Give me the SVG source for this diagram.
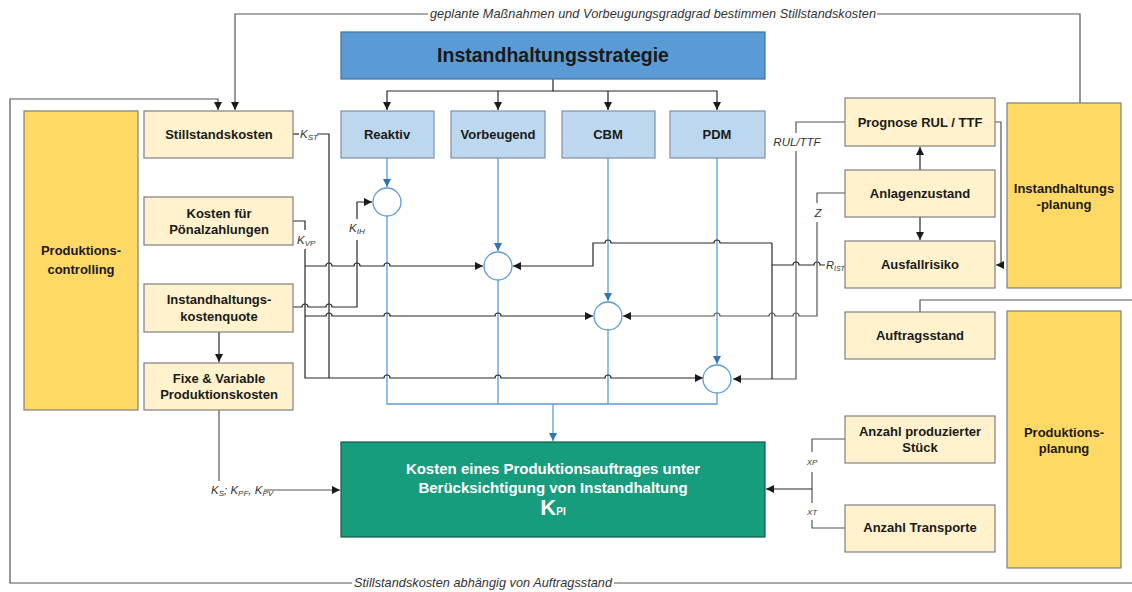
<svg xmlns="http://www.w3.org/2000/svg" width="1132" height="592" viewBox="0 0 1132 592">
<defs>
<marker id="ab" viewBox="0 0 10 10" refX="10" refY="5" markerWidth="8" markerHeight="8" markerUnits="userSpaceOnUse" orient="auto"><path d="M0,0 L10,5 L0,10 z" fill="#1a1a1a"/></marker>
<marker id="abl" viewBox="0 0 10 10" refX="10" refY="5" markerWidth="8" markerHeight="8" markerUnits="userSpaceOnUse" orient="auto"><path d="M0,0 L10,5 L0,10 z" fill="#2e75b6"/></marker>
<style>
.lt{fill:#fff2cc;stroke:#7f7f7f;stroke-width:1.2}
.yl{fill:#ffd966;stroke:#7f7f7f;stroke-width:1.2}
.sb{fill:#bdd7ee;stroke:#7f8fa6;stroke-width:1.2}
.t{font-family:"Liberation Sans",Arial,sans-serif;font-weight:bold;font-size:13px;fill:#1a1a1a;text-anchor:middle}
.tw{font-family:"Liberation Sans",Arial,sans-serif;font-weight:bold;font-size:15px;fill:#fff;text-anchor:middle}
.it{font-family:"Liberation Sans",Arial,sans-serif;font-style:italic;font-size:12.7px;fill:#333}
.k{font-family:"Liberation Sans",Arial,sans-serif;font-style:italic;font-size:11.5px;fill:#333}
.s{font-size:8px}
.w{fill:none;stroke:#262626;stroke-width:1.2}
.g{fill:none;stroke:#555;stroke-width:1.2}
.bl{fill:none;stroke:#5b9bd5;stroke-width:1.3}
.c{fill:#fff;stroke:#5b9bd5;stroke-width:1.3}
</style>
</defs>
<rect width="1132" height="592" fill="#fff"/>

<g id="connectors">
  <path class="g" d="M428,14 H235 V110" marker-end="url(#ab)"/>
  <path class="g" d="M1080,103 V14 H877"/>
  <text class="it" x="430" y="18" textLength="446" lengthAdjust="spacing">geplante Maßnahmen und Vorbeugungsgradgrad bestimmen Stillstandskosten</text>
  <path class="g" d="M352,583 H10 V99 H218 V110" marker-end="url(#ab)"/>
  <path class="g" d="M614,583 H1132"/>
  <path class="g" d="M920,312 V300 H1132"/>
  <text class="it" x="354" y="587" textLength="258" lengthAdjust="spacing">Stillstandskosten abhängig von Auftragsstand</text>

  <path class="w" d="M553,79 V91 H387 V110" marker-end="url(#ab)"/>
  <path class="w" d="M553,91 H717 V110" marker-end="url(#ab)"/>
  <path class="w" d="M498,91 V110" marker-end="url(#ab)"/>
  <path class="w" d="M608,91 V110" marker-end="url(#ab)"/>

  <path class="bl" d="M387,158 V187" marker-end="url(#abl)"/>
  <path class="bl" d="M498,158 V251" marker-end="url(#abl)"/>
  <path class="bl" d="M608,158 V301" marker-end="url(#abl)"/>
  <path class="bl" d="M717,158 V364" marker-end="url(#abl)"/>
  <path class="bl" d="M387,216 V404 H717 V393"/>
  <path class="bl" d="M498,280 V404"/>
  <path class="bl" d="M608,330 V404"/>
  <path class="bl" d="M553,404 V441" marker-end="url(#abl)"/>

  <path class="w" d="M293,134 H299"/>
  <text class="k" x="300" y="138">K<tspan class="s" dy="2">ST</tspan></text>
  <path class="w" d="M317,134 H329 V378"/>
  <path class="w" d="M293,221 H305 V230"/>
  <text class="k" x="297" y="244">K<tspan class="s" dy="2">VP</tspan></text>
  <path class="w" d="M305,249 V378 H384 a3,3 0 0 1 6,0 H495 a3,3 0 0 1 6,0 H605 a3,3 0 0 1 6,0 H703" marker-end="url(#ab)"/>
  <path class="w" d="M305,266 H326 a3,3 0 0 1 6,0 H354 a3,3 0 0 1 6,0 H384 a3,3 0 0 1 6,0 H483" marker-end="url(#ab)"/>
  <path class="w" d="M293,307 H302 a3,3 0 0 1 6,0 H326 a3,3 0 0 1 6,0 H357 V240"/>
  <text class="k" x="349" y="232">K<tspan class="s" dy="2">IH</tspan></text>
  <path class="w" d="M357,219 V202 H372" marker-end="url(#ab)"/>
  <path class="w" d="M305,316 H326 a3,3 0 0 1 6,0 H384 a3,3 0 0 1 6,0 H495 a3,3 0 0 1 6,0 H593" marker-end="url(#ab)"/>

  <path class="g" d="M845,122 H796 V133"/>
  <text class="k" x="797" y="146" text-anchor="middle">RUL/TTF</text>
  <path class="g" d="M796,151 V379 H733" marker-end="url(#ab)"/>
  <path class="w" d="M772,243 V379"/>
  <path class="w" d="M772,243 H720 a3,3 0 0 0 -6,0 H611 a3,3 0 0 0 -6,0 H593 V266 H513" marker-end="url(#ab)"/>
  <path class="w" d="M825,265 H820 a3,3 0 0 0 -6,0 H799 a3,3 0 0 0 -6,0 H772"/>
  <text class="k" x="826" y="269" style="font-size:11px">R<tspan style="font-size:7px" dy="2">IST</tspan></text>
  <path class="g" d="M845,193 H817 V203"/>
  <text class="k" x="818" y="217" text-anchor="middle">Z</text>
  <path class="g" d="M817,222 V316 H799 a3,3 0 0 0 -6,0 H775 a3,3 0 0 0 -6,0 H720 a3,3 0 0 0 -6,0 H623" marker-end="url(#ab)"/>

  <path class="w" d="M920,170 V147" marker-end="url(#ab)"/>
  <path class="w" d="M920,217 V240" marker-end="url(#ab)"/>
  <path class="g" d="M995,122 H1001 V265 H996" marker-end="url(#ab)"/>

  <path class="w" d="M219,332 V362" marker-end="url(#ab)"/>
  <path class="g" d="M219,410 V481"/>
  <text class="k" x="211" y="494">K<tspan class="s" dy="2">S</tspan><tspan dy="-2">; K</tspan><tspan class="s" dy="2">PF</tspan><tspan dy="-2">, K</tspan><tspan class="s" dy="2">PV</tspan></text>
  <path class="g" d="M264,490 H340" marker-end="url(#ab)"/>

  <path class="g" d="M845,439 H812 V452"/>
  <text class="k" x="812" y="465" text-anchor="middle" style="font-size:8px">XP</text>
  <path class="g" d="M812,472 V503"/>
  <text class="k" x="812" y="515" text-anchor="middle" style="font-size:8px">XT</text>
  <path class="g" d="M812,520 V528 H845"/>
  <path class="w" d="M812,489 H766" marker-end="url(#ab)"/>
</g>

<g id="circles">
  <circle class="c" cx="387" cy="202" r="14"/>
  <circle class="c" cx="498" cy="266" r="14"/>
  <circle class="c" cx="608" cy="316" r="14"/>
  <circle class="c" cx="717" cy="379" r="14"/>
</g>

<g id="n-strategie">
  <rect x="341" y="32" width="424" height="47" fill="#5b9bd5" stroke="#41719c" stroke-width="1.2"/>
  <text class="t" x="553" y="62" style="font-size:19.5px">Instandhaltungsstrategie</text>
</g>
<g id="n-reaktiv"><rect class="sb" x="341" y="111" width="93" height="47"/><text class="t" x="387" y="139">Reaktiv</text></g>
<g id="n-vorbeugend"><rect class="sb" x="451" y="111" width="94" height="47"/><text class="t" x="498" y="139">Vorbeugend</text></g>
<g id="n-cbm"><rect class="sb" x="562" y="111" width="93" height="47"/><text class="t" x="608" y="139">CBM</text></g>
<g id="n-pdm"><rect class="sb" x="670" y="111" width="95" height="47"/><text class="t" x="717" y="139">PDM</text></g>

<g id="n-controlling"><rect class="yl" x="24" y="111" width="114" height="299"/><text class="t" x="81" y="255">Produktions-</text><text class="t" x="81" y="274">controlling</text></g>
<g id="n-stillstand"><rect class="lt" x="144" y="111" width="149" height="47"/><text class="t" x="219" y="139">Stillstandskosten</text></g>
<g id="n-poenal"><rect class="lt" x="144" y="197" width="149" height="48"/><text class="t" x="219" y="218">Kosten für</text><text class="t" x="219" y="234">Pönalzahlungen</text></g>
<g id="n-ihquote"><rect class="lt" x="144" y="284" width="149" height="48"/><text class="t" x="219" y="304">Instandhaltungs-</text><text class="t" x="219" y="321">kostenquote</text></g>
<g id="n-fixe"><rect class="lt" x="144" y="363" width="149" height="47"/><text class="t" x="219" y="383">Fixe &amp; Variable</text><text class="t" x="219" y="399">Produktionskosten</text></g>

<g id="n-kosten">
  <rect x="341" y="442" width="424" height="95" fill="#179c7d" stroke="#0f5c49" stroke-width="1.2"/>
  <text class="tw" x="553" y="474">Kosten eines Produktionsauftrages unter</text>
  <text class="tw" x="553" y="493">Berücksichtigung von Instandhaltung</text>
  <text class="tw" x="553" y="515" style="font-size:22px">K<tspan style="font-size:10px">PI</tspan></text>
</g>

<g id="n-prognose"><rect class="lt" x="845" y="98" width="150" height="48"/><text class="t" x="920" y="127">Prognose RUL / TTF</text></g>
<g id="n-anlagen"><rect class="lt" x="845" y="170" width="150" height="47"/><text class="t" x="920" y="198">Anlagenzustand</text></g>
<g id="n-ausfall"><rect class="lt" x="845" y="241" width="150" height="47"/><text class="t" x="920" y="269">Ausfallrisiko</text></g>
<g id="n-auftrag"><rect class="lt" x="845" y="312" width="150" height="47"/><text class="t" x="920" y="340">Auftragsstand</text></g>
<g id="n-stueck"><rect class="lt" x="845" y="416" width="150" height="47"/><text class="t" x="920" y="436">Anzahl produzierter</text><text class="t" x="920" y="452">Stück</text></g>
<g id="n-transporte"><rect class="lt" x="845" y="505" width="150" height="47"/><text class="t" x="920" y="532">Anzahl Transporte</text></g>
<g id="n-ihplanung"><rect class="yl" x="1007" y="103" width="114" height="185"/><text class="t" x="1064" y="193">Instandhaltungs</text><text class="t" x="1064" y="209">-planung</text></g>
<g id="n-prodplanung"><rect class="yl" x="1007" y="311" width="114" height="257"/><text class="t" x="1064" y="437">Produktions-</text><text class="t" x="1064" y="453">planung</text></g>
</svg>
